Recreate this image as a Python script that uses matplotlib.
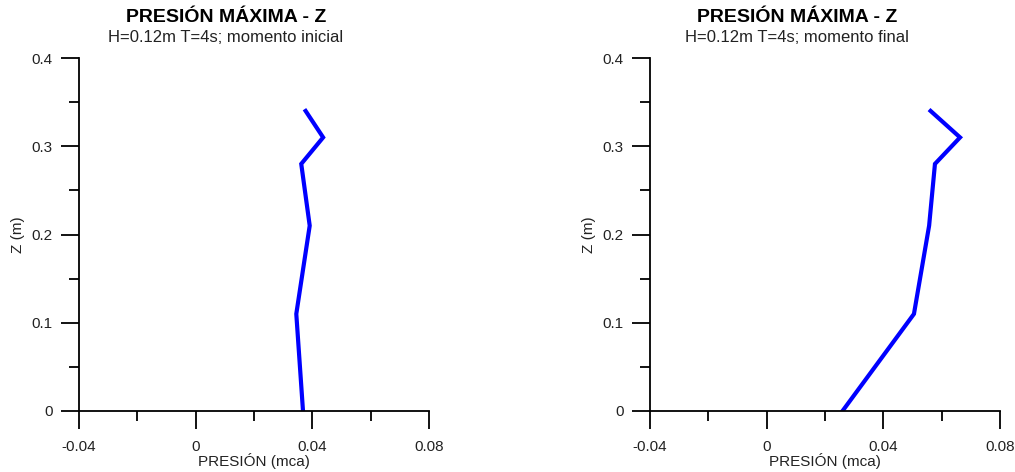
#!/usr/bin/env python3
"""Perfil de presión máxima vs. Z (momento inicial y final)."""

import matplotlib
matplotlib.use("Agg")
import matplotlib.pyplot as plt
from matplotlib.ticker import MultipleLocator

plt.rcParams["font.family"] = ["Liberation Sans", "DejaVu Sans"]

# profundidades (m) y presión máxima (mca)
z = [0.0, 0.11, 0.21, 0.28, 0.31, 0.34]
p_inicial = [0.0368, 0.0345, 0.0391, 0.0362, 0.0437, 0.0377]
p_final = [0.0260, 0.0505, 0.0557, 0.0577, 0.0663, 0.0562]

title = "PRESIÓN MÁXIMA - Z"
subtitles = ["H=0.12m T=4s; momento inicial", "H=0.12m T=4s; momento final"]
x_ticks = [-0.04, 0, 0.04, 0.08]
x_ticklabels = ["-0.04", "0", "0.04", "0.08"]
y_ticks = [0, 0.1, 0.2, 0.3, 0.4]
y_ticklabels = ["0", "0.1", "0.2", "0.3", "0.4"]

W, H = 1015, 472
fig = plt.figure(figsize=(W / 100, H / 100), dpi=100)

panels = [
    (79, p_inicial, subtitles[0], 226),
    (650, p_final, subtitles[1], 797),
]

for x0, p, sub, tx in panels:
    ax = fig.add_axes([x0 / W, (H - 411) / H, 350 / W, 353 / H])
    ax.plot(p, z, color="#0000ff", linewidth=3.0, solid_joinstyle="miter")
    ax.set_xlim(-0.04, 0.08)
    ax.set_ylim(0, 0.4)
    for s in ("top", "right"):
        ax.spines[s].set_visible(False)
    for s in ("left", "bottom"):
        ax.spines[s].set_linewidth(1.3)
        ax.spines[s].set_color("black")

    ax.set_xticks(x_ticks)
    ax.set_xticklabels(x_ticklabels)
    ax.set_yticks(y_ticks)
    ax.set_yticklabels(y_ticklabels)
    ax.xaxis.set_minor_locator(MultipleLocator(0.02))
    ax.yaxis.set_minor_locator(MultipleLocator(0.05))
    ax.tick_params(which="major", direction="out", length=13, width=1.3,
                   labelsize=11, colors="black", labelcolor="#222222")
    ax.tick_params(axis="x", which="major", pad=8)
    ax.tick_params(axis="y", which="major", pad=6)
    ax.tick_params(which="minor", direction="out", length=7.5, width=1.3)

    ax.set_xlabel("PRESIÓN (mca)", fontsize=11, color="#222222", labelpad=-1)
    ax.set_ylabel("Z (m)", fontsize=11, color="#222222", labelpad=5)

    fig.text(tx / W, 1 - 17 / H, title, ha="center", va="center",
             fontsize=14, fontweight="bold", color="black")
    fig.text(tx / W, 1 - 38 / H, sub, ha="center", va="center",
             fontsize=12, color="#222222")

fig.savefig("out.png", dpi=100)
